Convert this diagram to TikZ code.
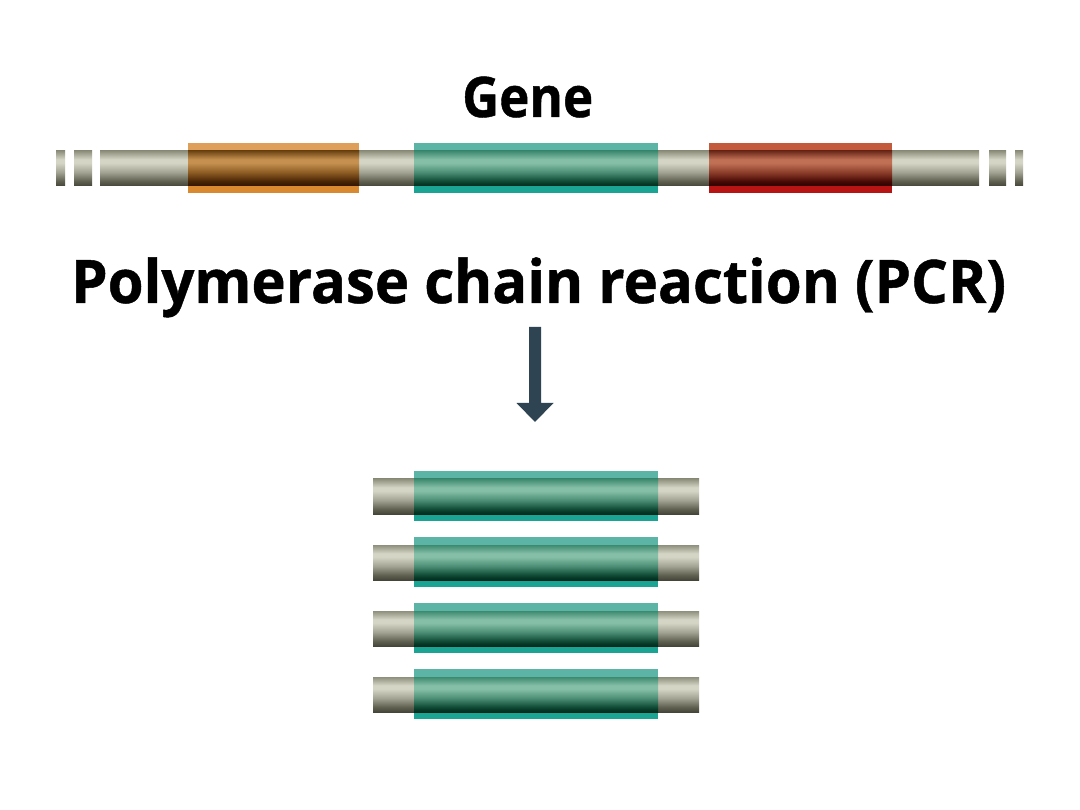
\documentclass[tikz,border=0pt]{standalone}
\usepackage{fontspec}
\setmainfont{Open Sans}[BoldFeatures={FakeBold=0.8}]
\usetikzlibrary{calc}
% tube colours
\definecolor{gtop}{HTML}{8E8F7C}
\definecolor{glight}{HTML}{D4D5C5}
\definecolor{gmid}{HTML}{A3A493}
\definecolor{glow}{HTML}{5F604F}
\definecolor{gbot}{HTML}{45463A}
\definecolor{ttop}{HTML}{3D8A70}
\definecolor{tlight}{HTML}{86BFA8}
\definecolor{tmid}{HTML}{4C8F76}
\definecolor{tlow}{HTML}{0F4A35}
\definecolor{tbot}{HTML}{00291B}
\definecolor{otop}{HTML}{6E4614}
\definecolor{olight}{HTML}{C59050}
\definecolor{omid}{HTML}{8F5E25}
\definecolor{olow}{HTML}{4A2505}
\definecolor{obot}{HTML}{2E1500}
\definecolor{rtop}{HTML}{6B2A1A}
\definecolor{rlight}{HTML}{C07055}
\definecolor{rmid}{HTML}{8E3F2B}
\definecolor{rlow}{HTML}{4A0A05}
\definecolor{rbot}{HTML}{2C0000}
% band colours
\definecolor{tband}{HTML}{5CB4A6}
\definecolor{tbandb}{HTML}{1BA393}
\definecolor{oband}{HTML}{DD9F5A}
\definecolor{obandb}{HTML}{D98A30}
\definecolor{rband}{HTML}{C45A3C}
\definecolor{rbandb}{HTML}{B81414}
\definecolor{arrowc}{HTML}{2F4452}
\pgfdeclareverticalshading{graytube}{100bp}{color(0bp)=(gbot); color(25bp)=(gbot); color(32bp)=(glow); color(45bp)=(gmid); color(58bp)=(glight); color(63bp)=(glight); color(75bp)=(gtop); color(100bp)=(gtop)}
\pgfdeclareverticalshading{tealtube}{100bp}{color(0bp)=(tbot); color(25bp)=(tbot); color(32bp)=(tlow); color(45bp)=(tmid); color(58bp)=(tlight); color(63bp)=(tlight); color(75bp)=(ttop); color(100bp)=(ttop)}
\pgfdeclareverticalshading{orangetube}{100bp}{color(0bp)=(obot); color(25bp)=(obot); color(32bp)=(olow); color(45bp)=(omid); color(58bp)=(olight); color(63bp)=(olight); color(75bp)=(otop); color(100bp)=(otop)}
\pgfdeclareverticalshading{redtube}{100bp}{color(0bp)=(rbot); color(25bp)=(rbot); color(32bp)=(rlow); color(45bp)=(rmid); color(58bp)=(rlight); color(63bp)=(rlight); color(75bp)=(rtop); color(100bp)=(rtop)}
\tikzset{
  gray tube/.style={shading=graytube},
  teal tube/.style={shading=tealtube},
  orange tube/.style={shading=orangetube},
  red tube/.style={shading=redtube},
  label text/.style={inner sep=0pt, anchor=base west, font=\bfseries},
}
% #1 x-left, #2 x-right, #3 y-top of tube (height 35)
\newcommand\graytubeseg[3]{\shade[gray tube] (#1,#3) rectangle (#2,{#3+35});}
% coloured segment: #1 x-left, #2 x-right, #3 tube top, #4 band top colour, #5 band bottom colour, #6 tube style
\newcommand\colseg[6]{%
  \fill[#4] (#1,{#3-8}) rectangle (#2,{#3+17.5});
  \fill[#5] (#1,{#3+17.5}) rectangle (#2,{#3+42});
  \shade[#6] (#1,#3) rectangle (#2,{#3+35});}
\newsavebox\titlebox
\newsavebox\genebox
\begin{document}
\sbox\titlebox{\fontsize{60}{64}\selectfont\bfseries Polymerase chain reaction (PCR)}
\sbox\genebox{\fontsize{56}{60}\selectfont\bfseries Gene}
\pgfmathsetmacro\titlesx{935/\the\wd\titlebox}
\pgfmathsetmacro\genesx{131/\the\wd\genebox}
\begin{tikzpicture}[x=1pt,y=-1pt]
\useasboundingbox[fill=white] (0,0) rectangle (1080,810);
% texts
\node[label text] (gene) at (462,117) {\scalebox{\genesx}[1]{\usebox\genebox}};
\node[label text] (title) at (71,303) {\scalebox{\titlesx}[1]{\usebox\titlebox}};
% gene bar
\graytubeseg{56}{65}{151}
\graytubeseg{74}{92}{151}
\graytubeseg{100}{979}{151}
\graytubeseg{989}{1006}{151}
\graytubeseg{1015}{1023}{151}
\colseg{188}{359}{151}{oband}{obandb}{orange tube}
\colseg{414}{658}{151}{tband}{tbandb}{teal tube}
\colseg{709}{892}{151}{rband}{rbandb}{red tube}
% arrow
\coordinate (atop) at (535,327);
\coordinate (atip) at (535,422);
\fill[arrowc] ($(atop)+(-6,0)$) -- ($(atop)+(6,0)$) -- ($(atip)+(6,-19)$) -- ($(atip)+(18.5,-19)$) -- (atip) -- ($(atip)+(-18.5,-19)$) -- ($(atip)+(-6,-19)$) -- cycle;
% PCR products
\foreach \yy in {479,545,611,677}{
  \graytubeseg{373}{699}{\yy}
  \colseg{414}{658}{\yy}{tband}{tbandb}{teal tube}
}
\end{tikzpicture}
\end{document}
